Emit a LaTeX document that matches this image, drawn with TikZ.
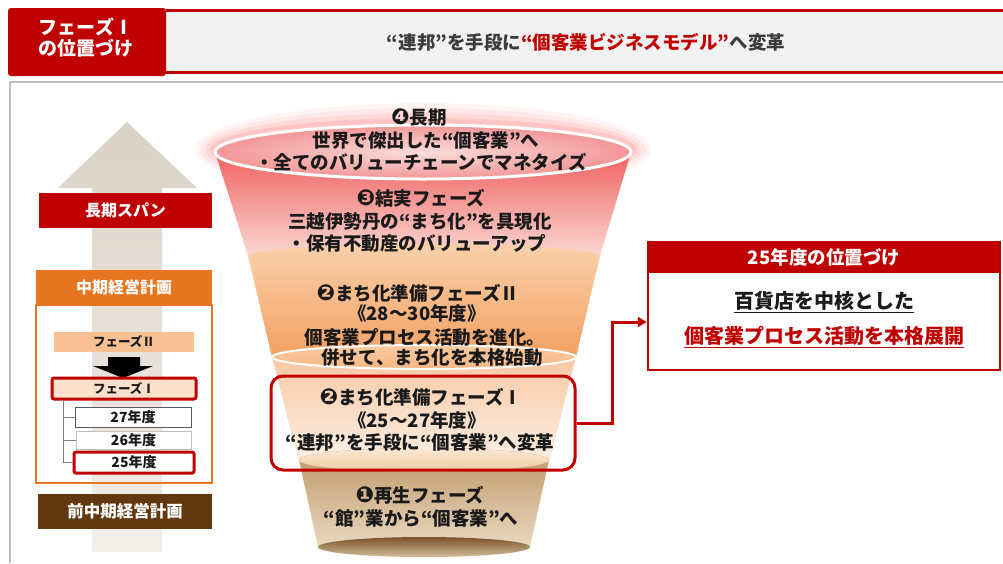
\documentclass[tikz,border=0pt]{standalone}
\usepackage{fontspec}
\setmainfont{Noto Sans CJK JP}
\newfontfamily\dv{DejaVu Sans}
\newcommand{\circnum}[1]{{\dv\bfseries\fontsize{22}{22}\selectfont #1}}
\usetikzlibrary{arrows.meta}
\definecolor{jred}{RGB}{192,0,0}
\definecolor{hgray}{RGB}{242,242,242}
\definecolor{pgray}{RGB}{191,191,191}
\definecolor{jorange}{RGB}{232,117,31}
\definecolor{lorange}{RGB}{247,193,148}
\definecolor{phaseone}{RGB}{251,224,203}
\definecolor{jbrown}{RGB}{98,56,14}
\definecolor{beigeA}{RGB}{218,210,197}
\definecolor{beigeB}{RGB}{242,238,233}
\definecolor{txt}{RGB}{26,26,26}
\definecolor{rA}{RGB}{236,66,66}
\definecolor{rB}{RGB}{242,118,118}
\definecolor{rC}{RGB}{252,230,224}
\definecolor{rE1}{RGB}{252,220,220}
\definecolor{rE2}{RGB}{242,150,150}
\definecolor{oA}{RGB}{250,208,170}
\definecolor{oB}{RGB}{245,168,106}
\definecolor{oC}{RGB}{242,156,90}
\definecolor{mA}{RGB}{250,203,160}
\definecolor{mB}{RGB}{247,182,130}
\definecolor{pA}{RGB}{248,196,156}
\definecolor{pB}{RGB}{254,243,234}
\definecolor{bA}{RGB}{190,150,102}
\definecolor{bB}{RGB}{238,222,200}
\definecolor{btA}{RGB}{251,232,212}
\definecolor{btB}{RGB}{238,202,164}
\definecolor{bbA}{RGB}{122,82,42}
\definecolor{bbB}{RGB}{212,188,155}
\tikzset{
  ft/.style={font=\fontsize{18.5}{20}\selectfont\bfseries, text=txt, inner sep=0pt},
  wbox/.style={font=\fontsize{16}{18}\selectfont\bfseries, text=white, inner sep=0pt},
  yearbox/.style={fill=white, font=\fontsize{14}{16}\selectfont\bfseries, text=txt, inner sep=0pt},
  tree/.style={draw=gray, line width=1pt},
}
\begin{document}
\begin{tikzpicture}[x=1pt,y=1pt]
\useasboundingbox (0,0) rectangle (1003,-563);
\fill[white] (0,0) rectangle (1003,-563);

% ---------- header ----------
\fill[hgray] (166,-10) rectangle (1003,-72);
\draw[jred, line width=3] (166,-10) -- (1003,-10);
\draw[jred, line width=3] (166,-72) -- (1003,-72);
\fill[jred, rounded corners=3] (8,-8) rectangle (166,-76);
\node[font=\fontsize{19}{21}\selectfont\bfseries, text=white, align=center, inner sep=0pt] (hl) at (86,-38) {フェーズⅠ\\の位置づけ};
\node[font=\fontsize{18.5}{20}\selectfont\bfseries, text=txt!85!white, inner sep=0pt] (ht) at (586,-42) {“連邦”を手段に{\color{jred}“個客業ビジネスモデル”}へ変革};

% ---------- main panel border ----------
\draw[pgray, line width=1.5] (10,-563) -- (10,-82) -- (1003,-82);

% ---------- left panel ----------
\shade[top color=beigeA, bottom color=beigeB] (127,-122) -- (197,-188) -- (162,-188) -- (162,-552) -- (92,-552) -- (92,-188) -- (58,-188) -- cycle;
\node[wbox, fill=jred, minimum width=173pt, minimum height=35pt] (span) at (125.5,-210.5) {長期スパン};
\node[wbox, fill=jorange, minimum width=176pt, minimum height=35pt] (mid) at (124,-287.5) {中期経営計画};
\draw[jorange, line width=2] (36,-305) rectangle (212,-483);
\node[fill=lorange, minimum width=140pt, minimum height=20pt, font=\fontsize{12.5}{14}\selectfont\bfseries, text=txt, inner sep=0pt] (ph2) at (124,-342) {フェーズⅡ};
\fill[black] (108,-357) -- (140,-357) -- (140,-366) -- (153,-366) -- (123,-378) -- (93,-366) -- (108,-366) -- cycle;
\node[fill=phaseone, draw=jred, line width=3, rounded corners=2, minimum width=144pt, minimum height=21pt, font=\fontsize{12.5}{14}\selectfont\bfseries, text=txt, inner sep=0pt] (ph1) at (124,-388.5) {フェーズⅠ};
\draw[tree] (63,-400) -- (63,-463);
\node[yearbox, draw={rgb,255:red,89;green,89;blue,89}, line width=1, minimum width=116pt, minimum height=20pt] (y27) at (133,-417) {27年度};
\node[yearbox, draw=pgray, line width=1, minimum width=115pt, minimum height=18pt] (y26) at (133.5,-440) {26年度};
\node[yearbox, draw=jred, line width=3, rounded corners=2, minimum width=120pt, minimum height=21pt] (y25) at (134,-462.5) {25年度};
\draw[tree] (63,-417) -- (y27.west);
\draw[tree] (63,-440) -- (y26.west);
\draw[tree] (63,-462.5) -- (y25.west);
\node[wbox, fill=jbrown, minimum width=174pt, minimum height=35pt, font=\fontsize{16.5}{18}\selectfont\bfseries] (prev) at (125,-511.5) {前中期経営計画};

% ---------- funnel ----------
\foreach \k/\o in {20/0.05,15/0.07,10/0.09,5/0.12}
  \fill[red!75!white, opacity=\o] (423,-150) ellipse [x radius=208+\k, y radius=27+\k];
% layer 4/3 red
\shade[top color=rA, middle color=rB, bottom color=rC]
  (215,-152) -- (248,-256) arc[start angle=180,end angle=360,x radius=176,y radius=12]
  -- (631,-152) arc[start angle=0,end angle=180,x radius=208,y radius=27] -- cycle;
\shadedraw[inner color=rE1, outer color=rE2, draw=white, line width=3]
  (423,-152) ellipse [x radius=208, y radius=27];
% orange layer
\shade[top color=oA, middle color=oB, bottom color=oC]
  (248,-256) arc[start angle=180,end angle=0,x radius=176,y radius=12]
  -- (576,-357) arc[start angle=0,end angle=-180,x radius=152,y radius=12] -- cycle;
% peach layer
\shade[top color=pA, bottom color=pB]
  (272,-357) arc[start angle=180,end angle=0,x radius=152,y radius=12]
  -- (550,-459) arc[start angle=0,end angle=-180,x radius=126,y radius=12] -- cycle;
\shadedraw[top color=mA, bottom color=mB, draw=white, line width=2]
  (424,-357) ellipse [x radius=152, y radius=12];
% brown layer
\shade[top color=bA, bottom color=bB]
  (299,-460) -- (318,-547) arc[start angle=180,end angle=360,x radius=106,y radius=10]
  -- (549,-460) arc[start angle=0,end angle=180,x radius=125,y radius=12] -- cycle;
\shade[top color=btA, bottom color=btB] (424,-460) ellipse [x radius=125, y radius=12];
\shade[top color=bbA, bottom color=bbB] (424,-547) ellipse [x radius=106, y radius=10];

% funnel texts
\node[ft] (s4a) at (419,-118) {\circnum{❹}長期};
\node[ft] (s4b) at (426,-141) {世界で傑出した“個客業”へ};
\node[ft] (s4c) at (421,-162) {・全てのバリューチェーンでマネタイズ};
\node[ft] (s3a) at (421,-198) {\circnum{❸}結実フェーズ};
\node[ft] (s3b) at (420,-222) {三越伊勢丹の“まち化”を具現化};
\node[ft] (s3c) at (417,-243) {・保有不動産のバリューアップ};
\node[ft] (s2a) at (418,-293) {\circnum{❷}まち化準備フェーズⅡ};
\node[ft] (s2b) at (417,-313) {《28～30年度》};
\node[ft] (s2c) at (425,-337) {個客業プロセス活動を進化。};
\node[ft] (s2d) at (432,-358) {併せて、まち化を本格始動};
\node[ft] (s1a) at (421,-397) {\circnum{❷}まち化準備フェーズⅠ};
\node[ft] (s1b) at (417,-420) {《25～27年度》};
\node[ft] (s1c) at (420,-443) {“連邦”を手段に“個客業”へ変革};
\node[ft] (s0a) at (420,-495) {\circnum{❶}再生フェーズ};
\node[ft] (s0b) at (421,-518) {“館”業から“個客業”へ};

\node[draw=jred, line width=3, rounded corners=12pt, minimum width=304pt, minimum height=94pt, inner sep=0pt] (pbox) at (423,-423) {};

% ---------- right box ----------
\node[draw=jred, line width=2.5, fill=white, minimum width=352pt, minimum height=128pt, inner sep=0pt] (rbox) at (824,-306) {};
\node[fill=jred, minimum width=352pt, minimum height=31pt, anchor=north, inner sep=0pt, font=\fontsize{18.5}{20}\selectfont\bfseries, text=white] (rhead) at ([yshift=-1.25pt]rbox.north) {25年度の位置づけ};
\node[ft, font=\fontsize{20}{22}\selectfont\bfseries] (r1) at (824,-302) {\underline{百貨店を中核とした}};
\node[ft, font=\fontsize{20}{22}\selectfont\bfseries, text=jred] (r2) at (824,-337) {\underline{個客業プロセス活動を本格展開}};

% connector
\coordinate (c1) at (612,-423);
\coordinate (c2) at (612,-322);
\draw[jred, line width=3, -{Triangle[length=9pt,width=10pt]}] (pbox.east) -- (c1) -- (c2) -- (rbox.west |- c2);
\end{tikzpicture}
\end{document}
